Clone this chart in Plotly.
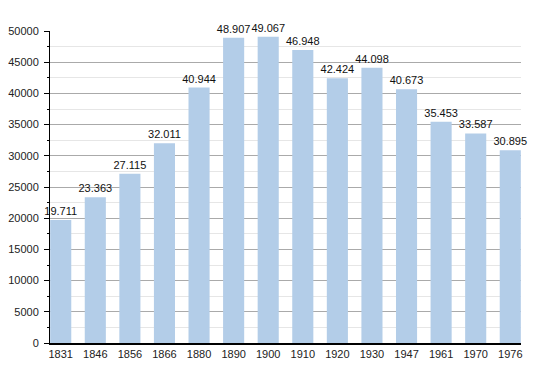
import plotly.graph_objects as go

years = ["1831", "1846", "1856", "1866", "1880", "1890", "1900", "1910",
         "1920", "1930", "1947", "1961", "1970", "1976"]
population = [19711, 23363, 27115, 32011, 40944, 48907, 49067, 46948,
              42424, 44098, 40673, 35453, 33587, 30895]
y_ticks = [0, 5000, 10000, 15000, 20000, 25000, 30000, 35000, 40000, 45000, 50000]

fig = go.Figure(go.Bar(
    x=years, y=population,
    marker=dict(color="#b3cde8", line=dict(width=0)),
    width=0.61,
    texttemplate="%{y:,}",
    textposition="outside",
    constraintext="none",
    textfont=dict(size=11, color="#111"),
    cliponaxis=False,
))

# page body has an 8px default margin, so shift the plot area accordingly
fig.update_layout(
    width=550, height=373,
    margin=dict(l=42, r=37, t=23, b=38, autoexpand=False),
    plot_bgcolor="white", paper_bgcolor="white",
    separators=",.",
    font=dict(family="Liberation Sans, Arial, sans-serif", size=11, color="#222"),
    showlegend=False,
)
fig.update_xaxes(
    type="category", range=[-0.31, 13.31], automargin=False,
    showline=True, linecolor="black", linewidth=1.5,
    ticks="", showgrid=False, tickfont=dict(size=11),
)
fig.update_yaxes(
    range=[0, 50000], tickvals=y_ticks, tickformat="d", automargin=False,
    showline=True, linecolor="black", linewidth=1,
    ticks="outside", ticklen=5, tickcolor="black",
    ticklabelstandoff=3,
    showgrid=True, gridcolor="#aaaaaa", gridwidth=1,
    zeroline=False,
    minor=dict(dtick=2500, showgrid=True, gridcolor="#e6e6e6",
               ticks="outside", ticklen=2, tickcolor="black"),
    tickfont=dict(size=11),
)

fig.write_html("out.html")
